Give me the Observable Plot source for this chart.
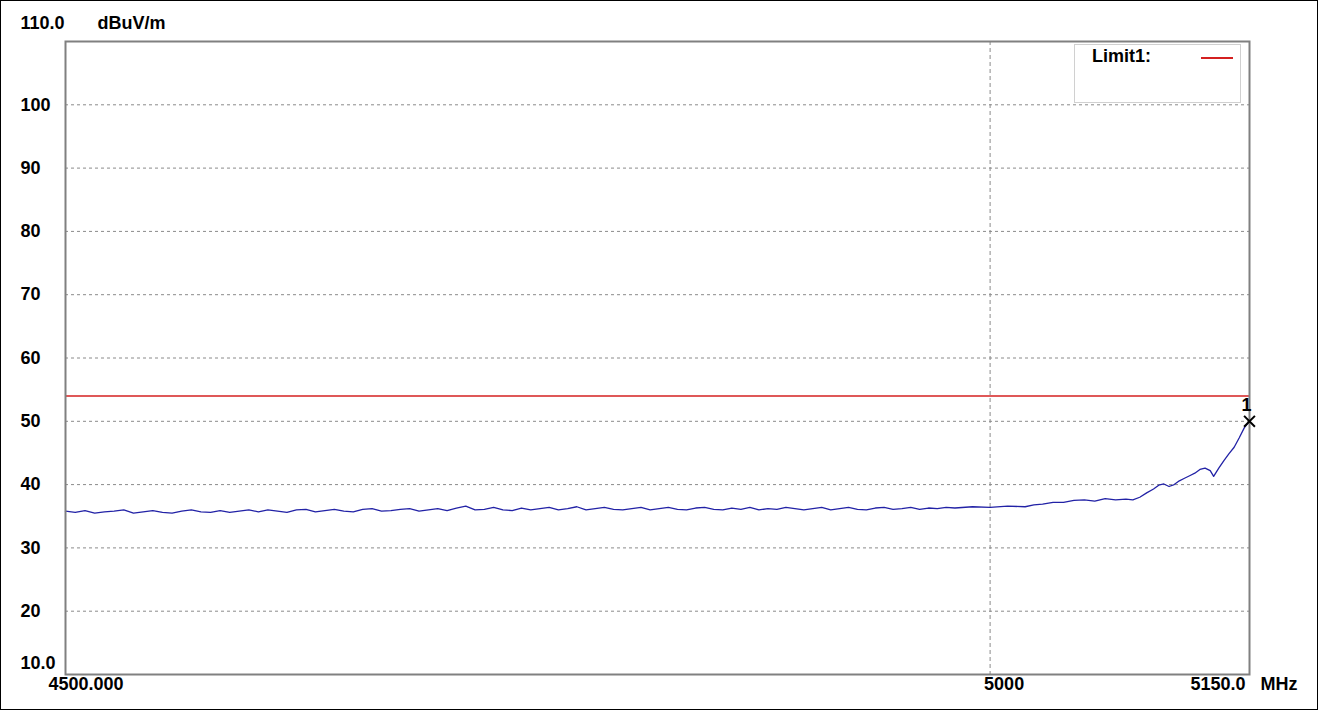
<!DOCTYPE html>
<html>
<head>
<meta charset="utf-8">
<script src="https://cdn.jsdelivr.net/npm/d3@7"></script>
<script src="https://cdn.jsdelivr.net/npm/@observablehq/plot@0.6"></script>
<style>
  html, body { margin: 0; padding: 0; background: #fff; }
  #wrap { position: relative; width: 1316px; height: 708px; border: 1px solid #000; overflow: hidden; }
  #legend { position: absolute; left: 1073px; top: 43px; width: 165px; height: 57px; border: 1px solid #d0d0d0; background: #fff;
            font: bold 18px "Liberation Sans", Arial, sans-serif; color: #000; }
  #legend .lab { position: absolute; left: 17px; top: 1px; }
  #legend .sw { position: absolute; left: 126px; top: 12px; width: 32px; height: 2px; background: #d42020; }
  svg text { font-family: "Liberation Sans", Arial, sans-serif; font-weight: bold; }
</style>
</head>
<body>
<div id="wrap"><div id="chart"></div>
<div id="legend"><div class="lab">Limit1:</div><div class="sw"></div></div>
</div>
<script>
// Trace: flat part, 5 MHz steps
const flatFreq = [
  4500,4505,4510,4515,4520,4525,4530,4535,4540,4545,4550,4555,4560,4565,4570,4575,4580,4585,4590,4595,
  4600,4605,4610,4615,4620,4625,4630,4635,4640,4645,4650,4655,4660,4665,4670,4675,4680,4685,4690,4695,
  4700,4705,4710,4715,4720,4725,4730,4735,4740,4745,4750,4755,4760,4765,4770,4775,4780,4785,4790,4795,
  4800,4805,4810,4815,4820,4825,4830,4835,4840,4845,4850,4855,4860,4865,4870,4875,4880,4885,4890,4895,
  4900,4905,4910,4915,4920,4925,4930,4935,4940,4945,4950,4955,4960,4965,4970,4975
];
const flatLevel = [
  35.8,35.6,35.9,35.5,35.7,35.8,36.0,35.5,35.7,35.9,35.6,35.5,35.8,36.0,35.7,35.6,35.9,35.6,35.8,36.0,
  35.7,36.0,35.8,35.6,36.0,36.1,35.7,35.9,36.1,35.8,35.7,36.1,36.2,35.8,35.9,36.1,36.2,35.8,36.0,36.2,
  35.9,36.3,36.6,36.0,36.1,36.4,36.0,35.9,36.3,36.0,36.2,36.4,36.0,36.2,36.5,36.0,36.2,36.4,36.1,36.0,
  36.2,36.4,36.0,36.2,36.4,36.1,36.0,36.3,36.4,36.1,36.0,36.3,36.1,36.4,36.0,36.2,36.1,36.4,36.2,36.0,
  36.2,36.4,36.0,36.2,36.4,36.1,36.0,36.3,36.4,36.1,36.2,36.4,36.1,36.3,36.2,36.4
];
// Trace: rising part near the band edge
const edgeFreq = [4980,4990,5000,5010,5020,5025,5030,5036,5042,5048,5054,5060,5066,5072,5078,5082,5086,5090,5094,5097,
  5100,5103,5106,5109,5112,5115,5118,5121,5124,5127,5129,5132,5135,5138,5141,5144,5147,5150];
const edgeLevel = [36.3,36.5,36.4,36.6,36.5,36.8,36.9,37.2,37.2,37.5,37.6,37.4,37.8,37.6,37.7,37.6,38.0,38.7,39.3,39.9,
  40.1,39.7,40.0,40.6,41.0,41.4,41.8,42.4,42.6,42.2,41.3,42.6,43.8,44.9,45.9,47.4,49.0,50.0];

const limitLevel = 54;
const markerFreq = [5150];
const markerLevel = [50.0];
const markerLabel = ["1"];

const yGrid = [20,30,40,50,60,70,80,90,100];
const yTickLabels = ["20","30","40","50","60","70","80","90","100"];
const xGrid = [5000];

const trace = flatFreq.map((f,i)=>({f, v: flatLevel[i]}))
  .concat(edgeFreq.map((f,i)=>({f, v: edgeLevel[i]})));
const markers = markerFreq.map((f,i)=>({f, v: markerLevel[i], t: markerLabel[i]}));

const FS = 18;
const chart = Plot.plot({
  width: 1316, height: 708,
  marginLeft: 64, marginTop: 40, marginRight: 68, marginBottom: 35,
  x: {type: "log", domain: [4500, 5150], axis: null},
  y: {domain: [10, 110], axis: null},
  style: {fontSize: FS + "px", fontFamily: "'Liberation Sans', Arial, sans-serif", background: "#fff", color: "#000"},
  marks: [
    Plot.ruleY(yGrid, {stroke: "#8a8a8a", strokeDasharray: "3,3", strokeWidth: 1}),
    Plot.ruleX(xGrid, {stroke: "#8a8a8a", strokeDasharray: "4,3", strokeWidth: 1}),
    Plot.ruleY([limitLevel], {stroke: "#d42020", strokeWidth: 1.3}),
    Plot.line(trace, {x: "f", y: "v", stroke: "#2222a6", strokeWidth: 1.3}),
    Plot.frame({stroke: "#808080", strokeWidth: 2}),
    Plot.dot(markers, {x: "f", y: "v", symbol: "times", r: 5, stroke: "#000", strokeWidth: 2}),
    Plot.text(markers, {x: "f", y: "v", text: "t", dy: -16, dx: -3, fill: "#000", fontSize: FS, fontWeight: "bold"}),
    // y tick labels
    Plot.text(yGrid, {y: d => d, text: (d,i) => yTickLabels[i], frameAnchor: "left", dx: -45, textAnchor: "start", fontSize: FS, fill: "#000"}),
    Plot.text([110], {y: d => d, text: ["110.0"], frameAnchor: "left", dx: -45, dy: -18, textAnchor: "start", fontSize: FS, fill: "#000"}),
    Plot.text([110], {y: d => d, text: ["dBuV/m"], frameAnchor: "left", dx: 32, dy: -18, textAnchor: "start", fontSize: FS, fill: "#000"}),
    Plot.text([10], {y: d => d, text: ["10.0"], frameAnchor: "left", dx: -45, dy: -11, textAnchor: "start", fontSize: FS, fill: "#000"}),
    // x tick labels
    Plot.text([4500], {x: d => d, text: ["4500.000"], frameAnchor: "bottom", dy: 15, dx: -17, textAnchor: "start", fontSize: FS, fill: "#000"}),
    Plot.text([5000], {x: d => d, text: ["5000"], frameAnchor: "bottom", dy: 15, dx: -6, textAnchor: "start", fontSize: FS, fill: "#000"}),
    Plot.text([5150], {x: d => d, text: ["5150.0"], frameAnchor: "bottom", dy: 15, dx: -4, textAnchor: "end", fontSize: FS, fill: "#000"}),
    Plot.text([5150], {x: d => d, text: ["MHz"], frameAnchor: "bottom", dy: 15, dx: 11, textAnchor: "start", fontSize: FS, fill: "#000"})
  ]
});
document.getElementById("chart").appendChild(chart);
</script>
</body>
</html>
